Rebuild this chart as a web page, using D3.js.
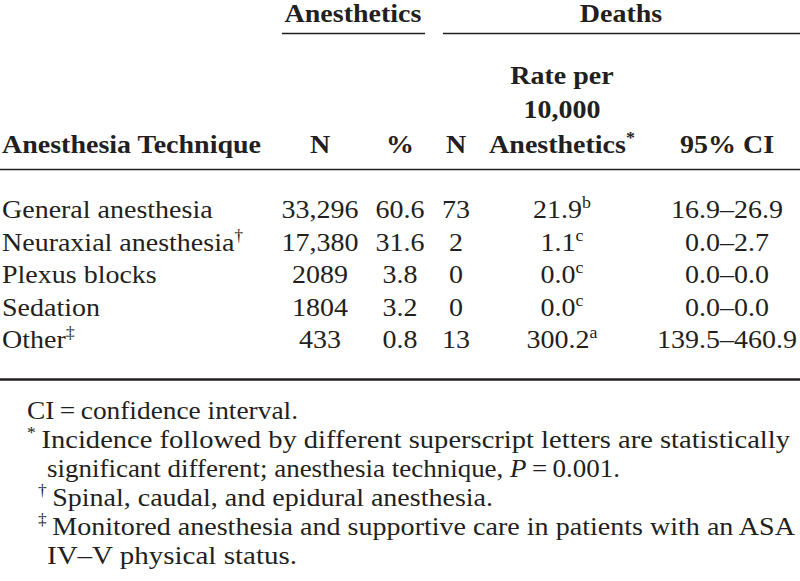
<!DOCTYPE html>
<html><head><meta charset="utf-8">
<script src="https://cdn.jsdelivr.net/npm/d3@7"></script>
<style>
html,body{margin:0;padding:0;background:#fff;}
svg{display:block;font-family:"Liberation Serif","Times New Roman",serif;}
</style></head>
<body>
<script>
// ---- data ----
const techniques = ["General anesthesia","Neuraxial anesthesia","Plexus blocks","Sedation","Other"];
const techMarks = ["","\u2020","","","\u2021"];
const anesthN = [33296,17380,2089,1804,433];
const anesthPct = [60.6,31.6,3.8,3.2,0.8];
const deathsN = [73,2,0,0,13];
const ratePer10k = [21.9,1.1,0.0,0.0,300.2];
const rateSup = ["b","c","c","c","a"];
const ciLow = [16.9,0.0,0.0,0.0,139.5];
const ciHigh = [26.9,2.7,0.0,0.0,460.9];
const groupHeaders = ["Anesthetics","Deaths"];
const columnHeaders = ["Anesthesia Technique","N","%","N","Anesthetics","95% CI"];
const footnotes = [
  [{t:"CI\u2009=\u2009confidence interval."}],
  [{t:"*",sup:true},{t:"\u2009Incidence followed by different superscript letters are statistically"}],
  [{t:"significant different; anesthesia technique, "},{t:"P",it:true},{t:"\u2009=\u20090.001."}],
  [{t:"\u2020",sup:true},{t:"\u2009Spinal, caudal, and epidural anesthesia."}],
  [{t:"\u2021",sup:true},{t:"\u2009Monitored anesthesia and supportive care in patients with an ASA"}],
  [{t:"IV\u2013V physical status."}]
];
const footStart = [27,27,47,38,38,47];
const footEnd = [298,790,620,493,795,297];

// ---- layout ----
const W = 800, H = 581;
const svg = d3.select("body").append("svg").attr("width", W).attr("height", H);
svg.append("rect").attr("width", W).attr("height", H).attr("fill", "#fff");

const cols = ["tech","n","pct","dn","rate","ci"];
const colX = d3.scaleOrdinal().domain(cols).range([2,320,400,456,562,727]);
const rowY = d3.scalePoint().domain(techniques).range([218,348]);
const footY = d3.scalePoint().domain(d3.range(footnotes.length)).range([419,564]);

const SX = 1.12, FS = 25, INK = "#231f20";

function addText(parent, x, y, parts, o) {
  const size = o.size || FS;
  const sx = o.sx || SX;
  const t = parent.append("text")
    .attr("transform", sx === 1 ? `translate(${x},${y})` : `translate(${x},${y}) scale(${sx},1)`)
    .attr("text-anchor", o.anchor || "middle")
    .attr("fill", INK)
    .style("font-size", size + "px")
    .style("font-weight", o.bold ? "bold" : "normal");
  if (o.len) t.attr("textLength", o.len).attr("lengthAdjust", "spacingAndGlyphs");
  let cur = 0;
  parts.forEach(p => {
    const want = p.sup ? -Math.round(size * 0.38) : 0;
    const s = t.append("tspan").text(p.t);
    if (want !== cur) s.attr("dy", want - cur);
    cur = want;
    if (p.sup) s.style("font-size", Math.round(size * 0.62) + "px");
    if (p.it) s.style("font-style", "italic");
  });
  return t;
}

// group headers
addText(svg, 353, 22, [{t:groupHeaders[0]}], {bold:true});
addText(svg, 621, 22, [{t:groupHeaders[1]}], {bold:true});
svg.append("line").attr("x1",282).attr("x2",425).attr("y1",33.5).attr("y2",33.5).attr("stroke",INK).attr("stroke-width",1.6);
svg.append("line").attr("x1",443).attr("x2",800).attr("y1",33.5).attr("y2",33.5).attr("stroke",INK).attr("stroke-width",1.6);

// column headers
const hy = 153;
addText(svg, colX("tech"), hy, [{t:columnHeaders[0]}], {bold:true, anchor:"start"});
addText(svg, colX("n"), hy, [{t:columnHeaders[1]}], {bold:true});
addText(svg, colX("pct"), hy, [{t:columnHeaders[2]}], {bold:true});
addText(svg, colX("dn"), hy, [{t:columnHeaders[3]}], {bold:true});
addText(svg, colX("rate"), 84, [{t:"Rate per"}], {bold:true});
addText(svg, colX("rate"), 118, [{t:"10,000"}], {bold:true});
addText(svg, colX("rate"), hy, [{t:columnHeaders[4]},{t:"*",sup:true}], {bold:true});
addText(svg, colX("ci"), hy, [{t:columnHeaders[5]}], {bold:true});
svg.append("line").attr("x1",0).attr("x2",800).attr("y1",169.5).attr("y2",169.5).attr("stroke",INK).attr("stroke-width",1.6);

// body rows
const fmtN = n => n >= 10000 ? d3.format(",")(n) : String(n);
const f1 = d3.format(".1f");
techniques.forEach((tech, i) => {
  const y = rowY(tech);
  const tparts = [{t:tech}];
  if (techMarks[i]) tparts.push({t:techMarks[i], sup:true});
  addText(svg, colX("tech"), y, tparts, {anchor:"start"});
  addText(svg, colX("n"), y, [{t:fmtN(anesthN[i])}], {});
  addText(svg, colX("pct"), y, [{t:f1(anesthPct[i])}], {});
  addText(svg, colX("dn"), y, [{t:String(deathsN[i])}], {});
  addText(svg, colX("rate"), y, [{t:f1(ratePer10k[i])},{t:rateSup[i],sup:true}], {});
  addText(svg, colX("ci"), y, [{t:f1(ciLow[i]) + "\u2013" + f1(ciHigh[i])}], {});
});
svg.append("line").attr("x1",0).attr("x2",800).attr("y1",379.5).attr("y2",379.5).attr("stroke",INK).attr("stroke-width",2.6);

// footnotes
footnotes.forEach((parts, i) => {
  addText(svg, footStart[i], footY(i), parts, {anchor:"start", size:26, sx:1, len: footEnd[i] - footStart[i]});
});
</script>
</body></html>
